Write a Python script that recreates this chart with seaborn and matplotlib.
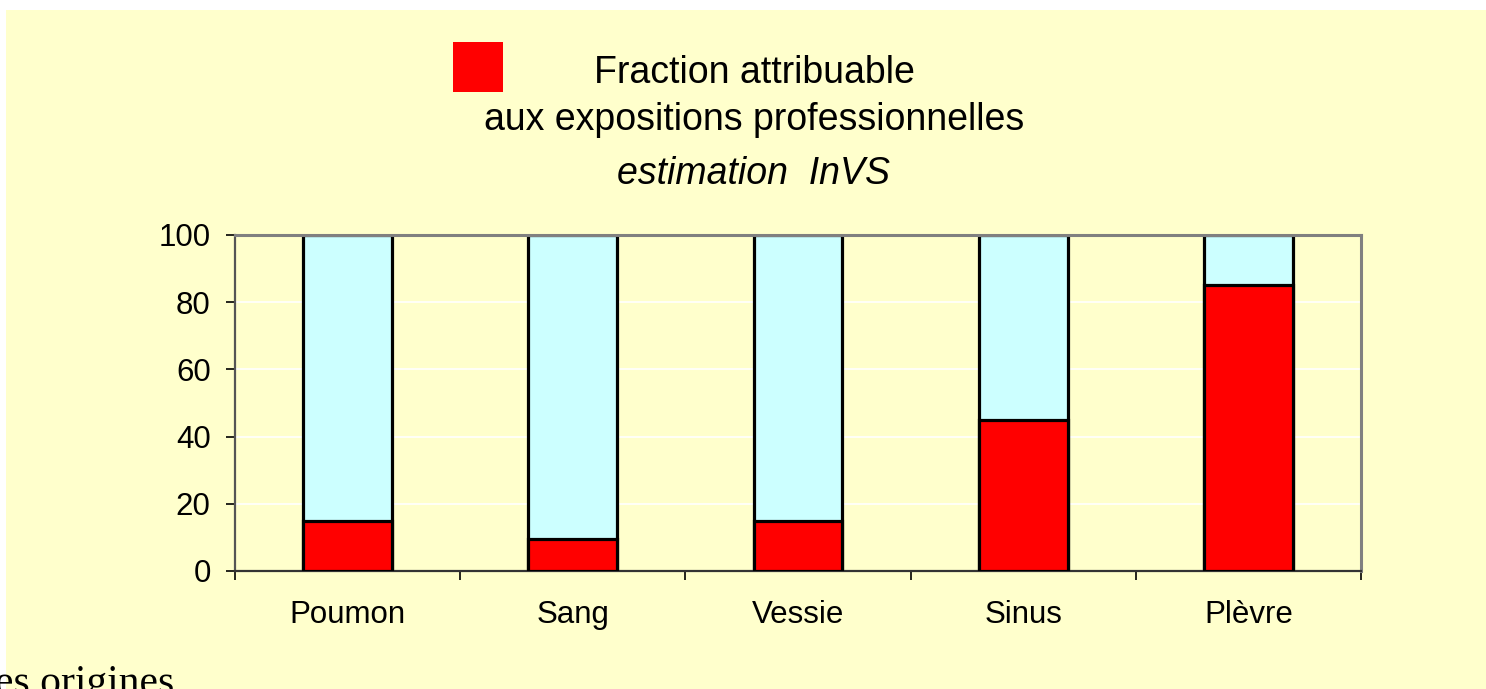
import matplotlib
matplotlib.use("Agg")
import matplotlib.pyplot as plt
from matplotlib.patches import Rectangle
import seaborn as sns

# data
organes = ["Poumon", "Sang", "Vessie", "Sinus", "Plèvre"]
fraction_pro = [15, 9.5, 15, 45, 85]
total = [100, 100, 100, 100, 100]

YELLOW = "#FFFFCC"
CYAN = "#CCFFFF"
RED = "#FF0000"

sns.set_style("white")
plt.rcParams["font.family"] = ["Liberation Sans", "DejaVu Sans"]
plt.rcParams["text.color"] = "black"
plt.rcParams["xtick.labelcolor"] = "black"
plt.rcParams["ytick.labelcolor"] = "black"

W, H = 1486, 689
fig = plt.figure(figsize=(W / 100, H / 100), dpi=100)
fig.patch.set_facecolor("white")
# yellow slide background (thin white strip on left and top)
fig.add_artist(Rectangle((6 / W, 0), 1 - 6 / W, 1 - 10 / H,
                         transform=fig.transFigure, facecolor=YELLOW,
                         edgecolor="none", zorder=-10))

ax = fig.add_axes([235 / W, 1 - 571 / H, (1361 - 235) / W, (571 - 235) / H])
ax.set_facecolor(YELLOW)

# full bar first, then the attributable fraction on top
sns.barplot(x=organes, y=total, color=CYAN, saturation=1, width=0.395,
            edgecolor="black", linewidth=2.3, ax=ax, zorder=2)
sns.barplot(x=organes, y=fraction_pro, color=RED, saturation=1, width=0.395,
            edgecolor="black", linewidth=2.3, ax=ax, zorder=3)

ax.set_xlim(-0.5, len(organes) - 0.5)
ax.set_ylim(0, 100)
ax.set_yticks([0, 20, 40, 60, 80, 100])
ax.yaxis.grid(True, color="white", linewidth=1.2)
ax.xaxis.grid(False)
ax.set_axisbelow(True)
ax.set_xlabel("")
ax.set_ylabel("")

# ticks between categories, labels centered on bars
ax.set_xticks([i - 0.5 for i in range(len(organes) + 1)], minor=True)
ax.tick_params(axis="x", which="major", length=0, pad=21, labelsize=22.5,
               labelcolor="black")
ax.tick_params(axis="x", which="minor", length=6.5, width=1.2,
               direction="out", color="black", bottom=True)
ax.tick_params(axis="y", which="major", length=6.5, width=1.2,
               direction="out", color="black", left=True, pad=11,
               labelsize=22.5, labelcolor="black")

for side in ["top", "right"]:
    ax.spines[side].set_visible(True)
    ax.spines[side].set_color("#808080")
    ax.spines[side].set_linewidth(2.2)
ax.spines["left"].set_color("#555555")
ax.spines["left"].set_linewidth(1.6)
ax.spines["bottom"].set_color("#333333")
ax.spines["bottom"].set_linewidth(1.6)

# legend drawn by hand: red square and centered three-line label
fig.add_artist(Rectangle((453 / W, 1 - 92 / H), 50 / W, 50 / H,
                         transform=fig.transFigure, facecolor=RED,
                         edgecolor="none"))
cx = 754 / W
fig.text(cx, 1 - 83 / H, "Fraction attribuable", ha="center",
         va="baseline", fontsize=27, color="black")
fig.text(cx, 1 - 130 / H, "aux expositions professionnelles", ha="center",
         va="baseline", fontsize=27, color="black")
fig.text(cx, 1 - 184 / H, "estimation  InVS", ha="center",
         va="baseline", fontsize=27, style="italic", color="black")

# cut-off text from the slide below (clipped in the original too)
fig.text(-5 / W, 1 - 694 / H, "es origines", ha="left", va="baseline",
         fontsize=30, color="black",
         family=["Liberation Serif", "DejaVu Serif"])

fig.savefig("out.png", dpi=100, facecolor=fig.get_facecolor())
